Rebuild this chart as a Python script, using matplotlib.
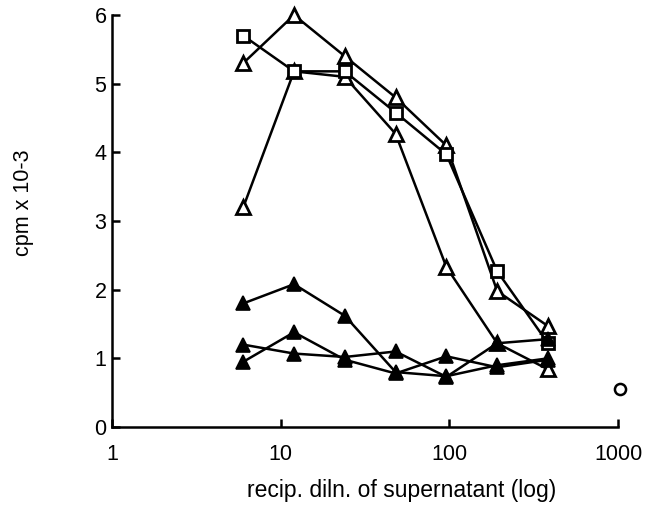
import matplotlib
matplotlib.use("Agg")
import matplotlib.pyplot as plt
from matplotlib.ticker import FixedLocator, FixedFormatter, NullLocator

plt.rcParams["font.family"] = ["Liberation Sans", "DejaVu Sans"]

# reciprocal dilution (twofold series)
dilution = [6, 12, 24, 48, 96, 192, 384]

# open symbols
open_tri_a = [5.3, 6.0, 5.4, 4.8, 4.1, 1.98, 1.47]
open_square = [5.7, 5.18, 5.18, 4.58, 3.97, 2.27, 1.22]
open_tri_b = [3.2, 5.18, 5.1, 4.27, 2.33, 1.22, 0.84]

# filled symbols
filled_a = [1.8, 2.08, 1.62, 0.8, 0.74, 0.9, 1.0]
filled_b = [1.2, 1.07, 1.02, 1.1, 0.73, 1.22, 1.28]
filled_c = [0.95, 1.38, 0.98, 0.78, 1.03, 0.87, 0.98]

# medium control
control_x = [1024]
control_y = [0.55]

x_ticks = [1, 10, 100, 1000]
x_ticklabels = ["1", "10", "100", "1000"]
y_ticks = [0, 1, 2, 3, 4, 5, 6]

fig = plt.figure(figsize=(6.53, 5.08), dpi=100)
ax = fig.add_axes([0.1715, 0.1594, 0.775, 0.811])

line_kw = dict(color="black", lw=1.8, clip_on=False)

ax.plot(dilution, open_tri_b, marker="^", ms=10, mfc="white", mec="black", mew=2, **line_kw)
ax.plot(dilution, open_tri_a, marker="^", ms=10, mfc="white", mec="black", mew=2, **line_kw)
ax.plot(dilution, open_square, marker="s", ms=8.5, mfc="white", mec="black", mew=2, **line_kw)

for vals in (filled_a, filled_b, filled_c):
    ax.plot(dilution, vals, marker="^", ms=10, mfc="black", mec="black", mew=1.2, **line_kw)

ax.plot(control_x, control_y, ls="none", marker="o", ms=8, mfc="white", mec="black", mew=1.8, clip_on=False)

ax.set_xscale("log")
ax.set_xlim(1, 1000)
ax.set_ylim(0, 6)

ax.xaxis.set_major_locator(FixedLocator(x_ticks))
ax.xaxis.set_major_formatter(FixedFormatter(x_ticklabels))
ax.xaxis.set_minor_locator(NullLocator())
ax.set_yticks(y_ticks)

for side in ("top", "right"):
    ax.spines[side].set_visible(False)
for side in ("left", "bottom"):
    ax.spines[side].set_linewidth(1.8)

ax.tick_params(direction="in", length=6, width=1.8, labelsize=15.5)
ax.tick_params(axis="x", pad=12)
ax.tick_params(axis="y", pad=4)

ax.set_xlabel("recip. diln. of supernatant (log)", fontsize=16.5)
ax.xaxis.set_label_coords(0.573, -0.153)
ax.xaxis.label.set_verticalalignment("center")
ax.set_ylabel("cpm x 10-3", fontsize=15.5)
ax.yaxis.set_label_coords(-0.174, 0.544)
ax.yaxis.label.set_verticalalignment("center")

fig.savefig("out.png", dpi=100)
